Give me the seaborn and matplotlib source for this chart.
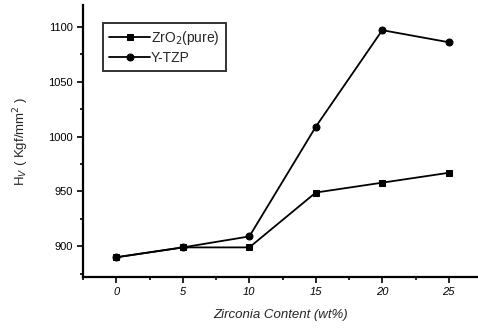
import matplotlib
matplotlib.use("Agg")
import matplotlib.pyplot as plt
import seaborn as sns
import pandas as pd
from matplotlib.ticker import MultipleLocator

sns.set_theme(style="ticks")
plt.rcParams['font.family'] = ['Liberation Sans', 'DejaVu Sans']

zirconia = [0, 5, 10, 15, 20, 25]
zro2_pure = [890, 899, 899, 949, 958, 967]
ytzp = [890, 899, 909, 1009, 1097, 1086]
x_ticks = [0, 5, 10, 15, 20, 25]
y_ticks = [900, 950, 1000, 1050, 1100]

df = pd.DataFrame({
    "x": zirconia * 2,
    "y": zro2_pure + ytzp,
    "series": ["ZrO$_2$(pure)"] * 6 + ["Y-TZP"] * 6,
})

fig = plt.figure(figsize=(4.78, 3.29), dpi=100)
ax = fig.add_axes([0.174, 0.158, 0.826, 0.827])

sns.lineplot(data=df, x="x", y="y", hue="series", style="series",
             markers={"ZrO$_2$(pure)": "s", "Y-TZP": "o"}, dashes=False,
             palette={"ZrO$_2$(pure)": "black", "Y-TZP": "black"},
             markersize=5, linewidth=1.3, markeredgecolor="black", ax=ax)

ax.set_xlim(-2.5, 27.2)
ax.set_ylim(872, 1120)
ax.set_xticks(x_ticks)
ax.set_yticks(y_ticks)
ax.xaxis.set_minor_locator(MultipleLocator(2.5))
ax.yaxis.set_minor_locator(MultipleLocator(25))
ax.tick_params(axis="both", which="major", direction="out", length=4, width=1.2, labelsize=8, colors="black")
ax.tick_params(axis="both", which="minor", direction="out", length=2, width=1.2, colors="black")
for lab in ax.get_xticklabels():
    lab.set_fontstyle("italic")
for s in ["top", "right"]:
    ax.spines[s].set_visible(False)
for s in ["left", "bottom"]:
    ax.spines[s].set_linewidth(1.6)
    ax.spines[s].set_color("black")

ax.set_xlabel("Zirconia Content (wt%)", fontsize=9.5, fontstyle="italic", labelpad=8)
ax.set_ylabel("H$_V$ ( Kgf/mm$^2$ )", fontsize=9.5, labelpad=12)

leg = ax.legend(title=None, loc="upper left", bbox_to_anchor=(0.033, 0.96),
                fontsize=10, frameon=True, fancybox=False, edgecolor="black",
                handlelength=2.9, borderpad=0.45, labelspacing=0.3, handletextpad=0.1)
leg.get_frame().set_linewidth(1.4)

fig.savefig("out.png", dpi=100)
